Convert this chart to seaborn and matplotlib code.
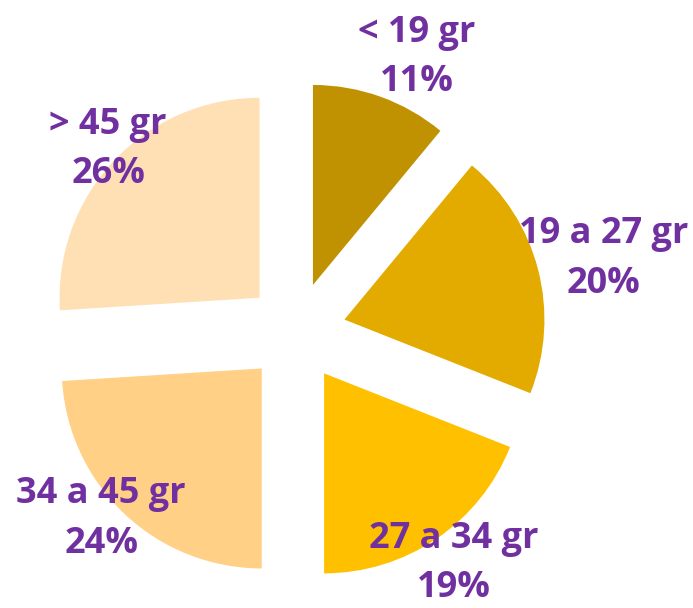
import matplotlib
matplotlib.use("Agg")
import matplotlib.pyplot as plt
import seaborn as sns
import numpy as np

categories = ["< 19 gr", "19 a 27 gr", "27 a 34 gr", "34 a 45 gr", "> 45 gr"]
values = [11, 20, 19, 24, 26]
colors = ["#C09100", "#E3AA00", "#FFC000", "#FFD086", "#FFE0B4"]

sns.set_theme(style="white")
plt.rcParams['font.family'] = ['Open Sans', 'DejaVu Sans']

W, H = 693, 608
fig = plt.figure(figsize=(W / 100, H / 100), dpi=100)
ax = fig.add_axes([0, 0, 1, 1])

R = 200
cx, cy = 296, H - 332
explode_frac = 0.25
label_r = [1.25, 1.33, 1.15, 1.10, 1.06]
label_dth = [-4, -1, 0, -3, -1]

labels = [f"{c}\n{v}%" for c, v in zip(categories, values)]
wedges, texts = ax.pie(values, labels=labels, colors=colors,
                       explode=[explode_frac * R] * len(values),
                       startangle=90, counterclock=False, radius=R,
                       center=(cx, cy), labeldistance=1.0,
                       wedgeprops=dict(linewidth=0))
for w, t, lr, dth in zip(wedges, texts, label_r, label_dth):
    th = np.deg2rad((w.theta1 + w.theta2) / 2 + dth)
    d = (explode_frac + lr) * R
    t.set_position((cx + d * np.cos(th), cy + d * np.sin(th)))
    t.set_ha("center")
    t.set_va("center")
    t.set_multialignment("center")
    t.set_fontsize(26)
    t.set_fontweight("bold")
    t.set_color("#7030A0")
    t.set_linespacing(1.5)

ax.set_xlim(0, W)
ax.set_ylim(0, H)
ax.set_aspect("equal")
ax.axis("off")
fig.savefig("out.png", dpi=100)
